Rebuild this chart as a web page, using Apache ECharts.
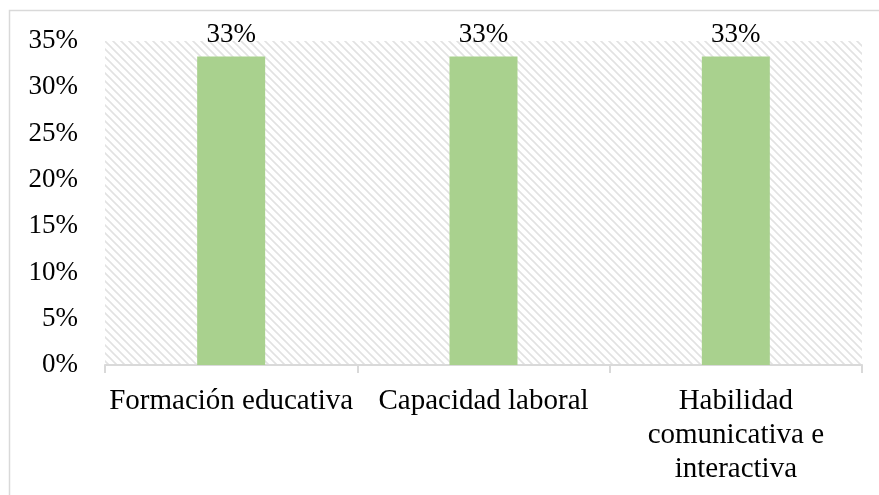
<!DOCTYPE html>
<html>
<head>
<meta charset="utf-8">
<script src="https://cdn.jsdelivr.net/npm/echarts@6/dist/echarts.min.js"></script>
<style>
  html, body { margin: 0; padding: 0; background: #fff; }
  #chart { width: 879px; height: 495px; }
</style>
</head>
<body>
<div id="chart"></div>
<script>
// data
var categories = ['Formación educativa', 'Capacidad laboral', 'Habilidad\ncomunicativa e\ninteractiva']
var values = [1 / 3, 1 / 3, 1 / 3]
var yTicks = [0, 0.05, 0.1, 0.15, 0.2, 0.25, 0.3, 0.35]

// hatched plot background (wide downward diagonal)
function makeHatch() {
  var c = document.createElement('canvas')
  c.width = 8
  c.height = 8
  var ctx = c.getContext('2d')
  ctx.fillStyle = '#ffffff'
  ctx.fillRect(0, 0, 8, 8)
  ctx.strokeStyle = '#e2e2e2'
  ctx.lineWidth = 1.6
  ctx.beginPath()
  ctx.moveTo(-2, -2); ctx.lineTo(10, 10)
  ctx.moveTo(-10, -2); ctx.lineTo(2, 10)
  ctx.moveTo(6, -2); ctx.lineTo(18, 10)
  ctx.stroke()
  return c
}

var font = "'Liberation Serif', 'Times New Roman', serif"
var chart = echarts.init(document.getElementById('chart'))

chart.setOption({
  animation: false,
  graphic: [{
    type: 'rect',
    shape: { x: 9.5, y: 10.5, width: 900, height: 500 },
    style: { fill: 'none', stroke: '#d9d9d9', lineWidth: 1.5 },
    z: -10
  }],
  grid: {
    left: 105,
    right: 17,
    top: 41,
    bottom: 130,
    show: true,
    borderWidth: 0,
    backgroundColor: { image: makeHatch(), repeat: 'repeat' }
  },
  xAxis: {
    type: 'category',
    data: categories,
    axisLine: { lineStyle: { color: '#d9d9d9', width: 2 } },
    axisTick: { show: true, length: 8, lineStyle: { color: '#d9d9d9', width: 2 } },
    axisLabel: {
      color: '#000',
      fontFamily: font,
      fontSize: 29,
      lineHeight: 34,
      margin: 19,
      interval: 0
    }
  },
  yAxis: {
    type: 'value',
    min: yTicks[0],
    max: yTicks[yTicks.length - 1],
    interval: 0.05,
    splitLine: { show: false },
    axisLine: { show: false },
    axisTick: { show: false },
    axisLabel: {
      color: '#000',
      fontFamily: font,
      fontSize: 27,
      margin: 27,
      formatter: function (v) { return Math.round(v * 100) + '%' }
    }
  },
  series: [{
    type: 'bar',
    data: values,
    barWidth: 68,
    itemStyle: { color: '#a9d18e' },
    label: {
      show: true,
      position: 'top',
      distance: 8,
      color: '#000',
      fontFamily: font,
      fontSize: 27,
      formatter: function (p) { return Math.round(p.value * 100) + '%' }
    }
  }]
})
</script>
</body>
</html>
